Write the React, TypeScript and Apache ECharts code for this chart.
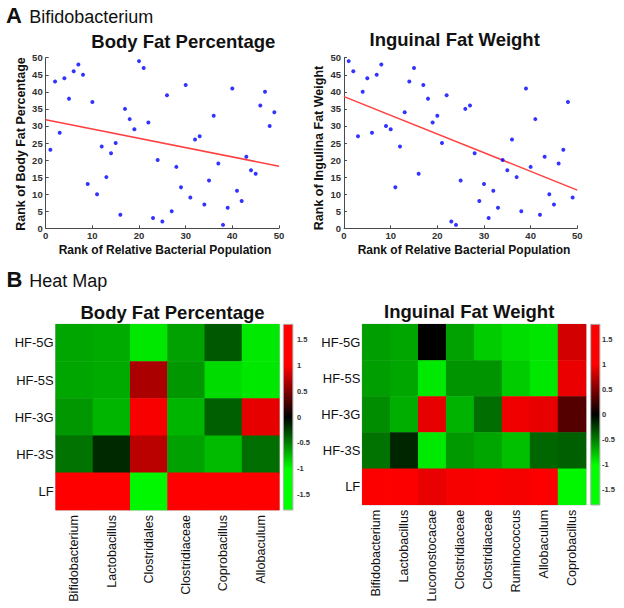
import React, { useEffect, useRef } from "react";
import * as echarts from "echarts";

// ---- Scatter data (rank pairs) ----
const bodyFatPoints: [number, number][] = [
  [1, 23], [2, 43], [3, 28], [4, 44], [5, 38], [6, 46], [7, 48], [8, 45], [9, 13], [10, 37],
  [11, 10], [12, 24], [13, 15], [14, 22], [15, 25], [16, 4], [17, 35], [18, 32], [19, 29], [20, 49],
  [21, 47], [22, 31], [23, 3], [24, 20], [25, 2], [26, 39], [27, 5], [28, 18], [29, 12], [30, 42],
  [31, 9], [32, 26], [33, 27], [34, 7], [35, 14], [36, 33], [37, 19], [38, 1], [39, 6], [40, 41],
  [41, 11], [42, 8], [43, 21], [44, 17], [45, 16], [46, 36], [47, 40], [48, 30], [49, 34],
];
const bodyFatFit: [number, number][] = [[0, 31.8], [50, 18.2]];

const inguinalPoints: [number, number][] = [
  [1, 49], [2, 46], [3, 27], [4, 40], [5, 44], [6, 28], [7, 45], [8, 48], [9, 30], [10, 29],
  [11, 12], [12, 24], [13, 34], [14, 43], [15, 47], [16, 16], [17, 42], [18, 38], [19, 31], [20, 33],
  [21, 25], [22, 39], [23, 2], [24, 1], [25, 14], [26, 35], [27, 36], [28, 22], [29, 8], [30, 13],
  [31, 3], [32, 11], [33, 6], [34, 20], [35, 17], [36, 26], [37, 15], [38, 5], [39, 41], [40, 18],
  [41, 32], [42, 4], [43, 21], [44, 10], [45, 7], [46, 19], [47, 23], [48, 37], [49, 9],
];
const inguinalFit: [number, number][] = [[0, 38.6], [50, 11.2]];

// ---- Heat map data ----
const heatRows = ["HF-5G", "HF-5S", "HF-3G", "HF-3S", "LF"];
const bodyFatCols = ["Bifidobacterium", "Lactobacillus", "Clostridiales", "Clostridiaceae", "Coprobacillus", "Allobaculum"];
const bodyFatHeat: number[][] = [
  [-0.65, -0.67, -0.92, -0.63, -0.35, -0.95],
  [-0.65, -0.67, 0.67, -0.59, -0.86, -0.93],
  [-0.59, -0.71, 1.25, -0.71, -0.37, 0.9],
  [-0.45, -0.16, 0.73, -0.63, -0.73, -0.43],
  [1.5, 1.5, -1.2, 1.5, 1.5, 1.45],
];
const inguinalCols = ["Bifidobacterium", "Lactobacillus", "Luconostocacae", "Clostridiaceae", "Clostridiaceae", "Ruminococcus", "Allobaculum", "Coprobacillus"];
const inguinalHeat: number[][] = [
  [-0.62, -0.65, 0.0, -0.63, -0.8, -0.87, -0.9, 0.82],
  [-0.62, -0.65, -0.95, -0.58, -0.58, -0.8, -0.92, 0.97],
  [-0.55, -0.68, 0.92, -0.7, -0.43, 1.1, 0.93, 0.33],
  [-0.45, -0.15, -0.95, -0.6, -0.65, -0.75, -0.4, -0.37],
  [1.3, 1.3, 0.95, 1.2, 1.3, 1.2, 1.3, -1.2],
];
const colorbarTicks = [-1.5, -1, -0.5, 0, 0.5, 1, 1.5];
const colorMin = -1.8;
const colorMax = 1.8;

const FONT = "'Liberation Sans', Arial, sans-serif";

function toCells(m: number[][]) {
  const out: [number, number, number][] = [];
  m.forEach((row, r) => row.forEach((v, c) => out.push([c, r, v])));
  return out;
}

function scatterAxes(gi: number) {
  const common = {
    gridIndex: gi,
    type: "value" as const,
    min: 0,
    max: 50,
    axisLine: { show: true, lineStyle: { color: "#4a4a4a", width: 1 } },
    axisTick: { show: true, inside: true, length: 3, lineStyle: { color: "#4a4a4a" } },
    axisLabel: { fontSize: 9.5, fontWeight: "bold" as const, color: "#303030", fontFamily: FONT, margin: 3 },
    splitLine: { show: false },
  };
  return {
    x: { ...common, interval: 10, axisLabel: { ...common.axisLabel, margin: 2 } },
    y: { ...common, interval: 5 },
  };
}

function txt(text: string, x: number, y: number, size: number, bold: boolean, align = "left", rotation = 0) {
  return {
    type: "text",
    x,
    y,
    rotation,
    silent: true,
    style: {
      text,
      fontSize: size,
      fontWeight: bold ? "bold" : "normal",
      fontFamily: FONT,
      fill: "#111",
      align,
      textAlign: align,
      verticalAlign: "middle",
      textVerticalAlign: "middle",
    },
  };
}

const cbarGradient = {
  type: "linear",
  x: 0,
  y: 0,
  x2: 0,
  y2: 1,
  colorStops: [
    { offset: 0, color: "#ff0000" },
    { offset: 0.22, color: "#ff0000" },
    { offset: 0.5, color: "#000000" },
    { offset: 0.78, color: "#00ff00" },
    { offset: 1, color: "#00ff00" },
  ],
};

export default function App() {
  const ref = useRef<HTMLDivElement>(null);
  useEffect(() => {
    if (!ref.current) return;
    const chart = echarts.init(ref.current, undefined, { renderer: "svg" });
    const s0 = scatterAxes(0);
    const s1 = scatterAxes(1);
    const heatX = (gi: number, cols: string[]) => ({
      gridIndex: gi,
      type: "category" as const,
      data: cols,
      axisLine: { show: false },
      axisTick: { show: false },
      splitLine: { show: false },
      axisLabel: { rotate: 90, fontSize: 12.6, color: "#111", fontFamily: FONT, margin: 5, interval: 0 },
    });
    const heatY = (gi: number) => ({
      gridIndex: gi,
      type: "category" as const,
      data: heatRows,
      inverse: true,
      axisLine: { show: false },
      axisTick: { show: false },
      splitLine: { show: false },
      axisLabel: { fontSize: 13, color: "#111", fontFamily: FONT, margin: 2 },
    });
    const cbX = (gi: number) => ({ gridIndex: gi, type: "value" as const, show: false, min: 0, max: 1 });
    const cbY = (gi: number, margin: number) => ({
      gridIndex: gi,
      type: "value" as const,
      position: "right" as const,
      min: colorMin,
      max: colorMax,
      axisLine: { show: false },
      axisTick: { show: false, customValues: colorbarTicks },
      splitLine: { show: false },
      axisLabel: {
        customValues: colorbarTicks,
        fontSize: 7.5,
        fontWeight: "bold" as const,
        color: "#333",
        fontFamily: FONT,
        margin,
      },
    });

    chart.setOption({
      animation: false,
      textStyle: { fontFamily: FONT },
      grid: [
        { left: 45.7, top: 57.7, width: 233.3, height: 170.6 },
        { left: 344, top: 57.7, width: 233.3, height: 170.6 },
        { left: 55.7, top: 324.3, width: 223.6, height: 185.7, show: true, borderColor: "#b0b0b0", borderWidth: 1, backgroundColor: "transparent" },
        { left: 283.3, top: 324.3, width: 9.6, height: 185.7, show: true, borderColor: "#b0b0b0", borderWidth: 1, backgroundColor: cbarGradient },
        { left: 362.3, top: 324.3, width: 223.7, height: 180.5, show: true, borderColor: "#b0b0b0", borderWidth: 1, backgroundColor: "transparent" },
        { left: 590.7, top: 324.3, width: 9.2, height: 180.7, show: true, borderColor: "#b0b0b0", borderWidth: 1, backgroundColor: cbarGradient },
      ],
      xAxis: [s0.x, s1.x, heatX(2, bodyFatCols), cbX(3), heatX(4, inguinalCols), cbX(5)],
      yAxis: [s0.y, s1.y, heatY(2), cbY(3, 4), heatY(4), cbY(5, 2)],
      visualMap: [
        {
          type: "continuous",
          show: false,
          seriesIndex: [4, 5],
          min: colorMin,
          max: colorMax,
          inRange: {
            color: ["#00ff00", "#00ff00", "#00e600", "#007300", "#000000", "#730000", "#e60000", "#ff0000", "#ff0000"],
          },
        },
      ],
      series: [
        { type: "scatter", xAxisIndex: 0, yAxisIndex: 0, data: bodyFatPoints, symbolSize: 4, itemStyle: { color: "#0000ff" }, z: 3 },
        { type: "line", xAxisIndex: 0, yAxisIndex: 0, data: bodyFatFit, showSymbol: false, lineStyle: { color: "#ff4040", width: 1.5 }, z: 2 },
        { type: "scatter", xAxisIndex: 1, yAxisIndex: 1, data: inguinalPoints, symbolSize: 4, itemStyle: { color: "#0000ff" }, z: 3 },
        { type: "line", xAxisIndex: 1, yAxisIndex: 1, data: inguinalFit, showSymbol: false, lineStyle: { color: "#ff4040", width: 1.5 }, z: 2 },
        { type: "heatmap", xAxisIndex: 2, yAxisIndex: 2, data: toCells(bodyFatHeat), emphasis: { disabled: true } },
        { type: "heatmap", xAxisIndex: 4, yAxisIndex: 4, data: toCells(inguinalHeat), emphasis: { disabled: true } },
      ],
      graphic: [
        txt("A", 6, 15.3, 22, true),
        txt("Bifidobacterium", 29.3, 17, 18, false),
        txt("B", 6.5, 279.6, 22, true),
        txt("Heat Map", 29.3, 281, 18, false),
        txt("Body Fat Percentage", 183.3, 41.7, 18.5, true, "center"),
        txt("Inguinal Fat Weight", 454.7, 39.1, 18.5, true, "center"),
        txt("Rank of Relative Bacterial Population", 165, 249.7, 12, true, "center"),
        txt("Rank of Relative Bacterial Population", 464, 249.7, 12, true, "center"),
        txt("Rank of Body Fat Percentage", 20.5, 144, 12.5, true, "center", Math.PI / 2),
        txt("Rank of Ingulina Fat Weight", 319, 148, 12.5, true, "center", Math.PI / 2),
        txt("Body Fat Percentage", 172.5, 312.7, 18.5, true, "center"),
        txt("Inguinal Fat Weight", 469.2, 311, 18.5, true, "center"),
      ],
    });
    return () => chart.dispose();
  }, []);
  return <div ref={ref} style={{ position: "fixed", left: 0, top: 0, width: 624, height: 608, background: "#fff" }} />;
}
